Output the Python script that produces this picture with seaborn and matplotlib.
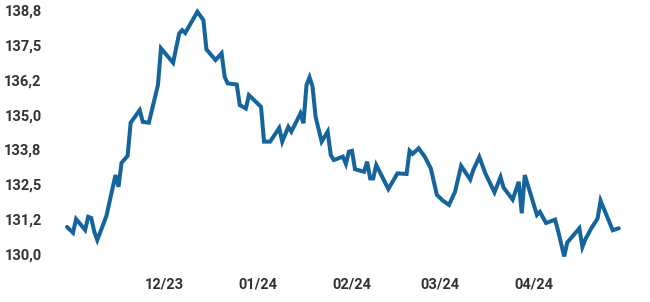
import matplotlib
matplotlib.use("Agg")
import matplotlib.pyplot as plt
import matplotlib.dates as mdates
from matplotlib.ticker import FixedLocator, FuncFormatter
import seaborn as sns
import pandas as pd

dates = [
    "2023-10-30", "2023-11-01", "2023-11-02", "2023-11-05", "2023-11-06", "2023-11-07",
    "2023-11-08", "2023-11-09", "2023-11-12", "2023-11-15", "2023-11-16", "2023-11-17",
    "2023-11-19", "2023-11-20", "2023-11-23", "2023-11-24", "2023-11-26", "2023-11-29",
    "2023-11-30", "2023-12-04", "2023-12-06", "2023-12-07", "2023-12-08", "2023-12-12",
    "2023-12-14", "2023-12-15", "2023-12-18", "2023-12-20", "2023-12-21", "2023-12-22",
    "2023-12-25", "2023-12-26", "2023-12-28", "2023-12-29", "2024-01-02", "2024-01-03",
    "2024-01-05", "2024-01-08", "2024-01-09", "2024-01-11", "2024-01-12", "2024-01-15",
    "2024-01-16", "2024-01-17", "2024-01-18", "2024-01-19", "2024-01-20", "2024-01-22",
    "2024-01-24", "2024-01-25", "2024-01-26", "2024-01-29", "2024-01-30", "2024-01-31",
    "2024-02-01", "2024-02-02", "2024-02-05", "2024-02-06", "2024-02-07", "2024-02-08",
    "2024-02-09", "2024-02-13", "2024-02-16", "2024-02-19", "2024-02-20", "2024-02-21",
    "2024-02-23", "2024-02-25", "2024-02-27", "2024-02-29", "2024-03-02", "2024-03-04",
    "2024-03-06", "2024-03-08", "2024-03-11", "2024-03-12", "2024-03-14", "2024-03-16",
    "2024-03-19", "2024-03-21", "2024-03-22", "2024-03-25", "2024-03-27", "2024-03-28",
    "2024-03-29", "2024-04-02", "2024-04-03", "2024-04-05", "2024-04-08", "2024-04-09",
    "2024-04-11", "2024-04-12", "2024-04-16", "2024-04-17", "2024-04-18", "2024-04-20",
    "2024-04-22", "2024-04-23", "2024-04-27", "2024-04-29",
]
values = [
    130.97, 130.76, 131.25, 130.86, 131.33, 131.29,
    130.80, 130.50, 131.36, 132.83, 132.41, 133.27,
    133.52, 134.71, 135.16, 134.74, 134.71, 136.06,
    137.38, 136.86, 137.91, 138.03, 137.93, 138.69,
    138.39, 137.34, 136.96, 137.20, 136.36, 136.12,
    136.08, 135.34, 135.22, 135.70, 135.28, 134.03,
    134.03, 134.52, 134.03, 134.56, 134.39, 135.04,
    134.69, 136.06, 136.34, 136.00, 134.92, 134.03,
    134.39, 133.55, 133.37, 133.49, 133.23, 133.67,
    133.70, 133.04, 132.95, 133.31, 132.71, 132.71,
    133.19, 132.33, 132.89, 132.87, 133.70, 133.59,
    133.79, 133.49, 133.07, 132.12, 131.91, 131.76,
    132.23, 133.16, 132.67, 133.01, 133.48, 132.89,
    132.21, 132.76, 132.38, 131.95, 132.59, 131.46,
    132.83, 131.40, 131.51, 131.11, 131.23, 130.82,
    129.91, 130.41, 130.92, 130.25, 130.53, 130.93,
    131.27, 131.91, 130.85, 130.92,
]
y_ticks = [130.0, 131.25, 132.5, 133.75, 135.0, 136.25, 137.5, 138.75]
x_tick_dates = ["2023-12-01", "2024-01-01", "2024-02-01", "2024-03-01", "2024-04-01"]
x_tick_labels = ["12/23", "01/24", "02/24", "03/24", "04/24"]

df = pd.DataFrame({"date": pd.to_datetime(dates), "value": values})

sns.set_theme(style="white")
plt.rcParams["font.family"] = ["Roboto", "DejaVu Sans"]

fig = plt.figure(figsize=(6.5, 3.02), dpi=100)
ax = fig.add_axes([50 / 650, 40 / 302, 590 / 650, 258 / 302])
sns.lineplot(data=df, x="date", y="value", ax=ax, color="#16649c",
             linewidth=2.9, solid_joinstyle="miter")

ref = pd.Timestamp("2023-12-01")
ax.set_xlim(ref - pd.Timedelta(days=37.6), ref + pd.Timedelta(days=157))
ax.set_ylim(129.71, 138.97)

ax.xaxis.set_major_locator(FixedLocator(mdates.date2num(pd.to_datetime(x_tick_dates))))
ax.set_xticklabels(x_tick_labels)
ax.yaxis.set_major_locator(FixedLocator(y_ticks))
ax.yaxis.set_major_formatter(FuncFormatter(lambda v, p: f"{v:.1f}".replace(".", ",")))

for lab in ax.get_xticklabels() + ax.get_yticklabels():
    lab.set_fontweight("bold")
    lab.set_fontsize(10.5)
    lab.set_color("#333333")

ax.tick_params(axis="both", length=0)
ax.tick_params(axis="x", pad=11)
ax.tick_params(axis="y", pad=6)
ax.set_xlabel("")
ax.set_ylabel("")
for s in ax.spines.values():
    s.set_visible(False)
ax.grid(False)

fig.savefig("out.png", dpi=100, facecolor="white")
